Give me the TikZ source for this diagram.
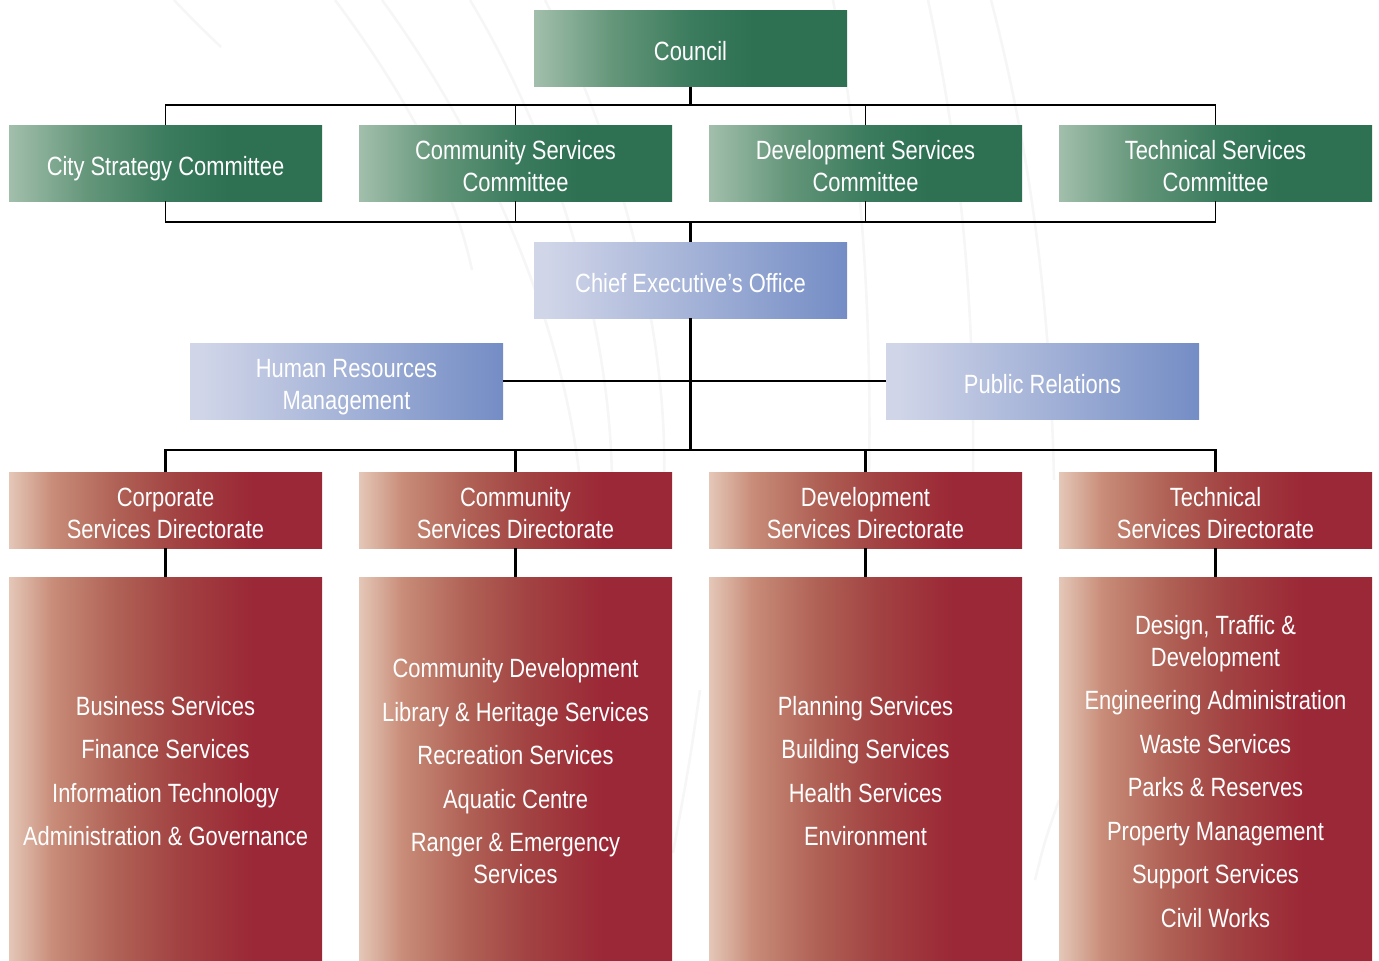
\documentclass[tikz,border=0pt]{standalone}
\usepackage{fontspec}
\setmainfont{Liberation Sans}[FakeStretch=0.83]
\usepackage{xcolor}
\definecolor{grnlight}{RGB}{162,191,172}
\definecolor{grnmid}{RGB}{100,150,122}
\definecolor{grnmidd}{RGB}{60,124,94}
\definecolor{grndark}{RGB}{45,112,82}
\definecolor{blulight}{RGB}{208,213,232}
\definecolor{bludark}{RGB}{116,141,197}
\definecolor{redlight}{RGB}{229,199,184}
\definecolor{redmid}{RGB}{200,140,120}
\definecolor{redmidd}{RGB}{176,98,86}
\definecolor{reddeep}{RGB}{162,66,66}
\definecolor{reddark}{RGB}{155,40,54}

% left-to-right fades for the three box families
\pgfdeclarehorizontalshading{greenwave}{100bp}{color(0bp)=(grnlight); color(25bp)=(grnlight); color(37.5bp)=(grnmid); color(50bp)=(grnmidd); color(60bp)=(grndark); color(100bp)=(grndark)}
\pgfdeclarehorizontalshading{bluewave}{100bp}{color(0bp)=(blulight); color(27bp)=(blulight); color(75bp)=(bludark); color(100bp)=(bludark)}
\pgfdeclarehorizontalshading{redwave}{100bp}{color(0bp)=(redlight); color(25bp)=(redlight); color(32bp)=(redmid); color(42bp)=(redmidd); color(52bp)=(reddeep); color(64bp)=(reddark); color(100bp)=(reddark)}

% fixed height for the first line of each box
\newcommand{\capstrut}{\rule{0pt}{15pt}}

\begin{document}
\begin{tikzpicture}[x=0.5pt, y=-0.5pt,
    box/.style={minimum width=156.5pt, minimum height=38pt, inner sep=0pt, text=white, align=center, font=\fontsize{13.2}{16}\selectfont,
        execute at end node={\rule[-3pt]{0pt}{3pt}}},
    committee/.style={box, shade, shading=greenwave},
    office/.style={box, shade, shading=bluewave},
    directorate/.style={box, shade, shading=redwave},
    unitlist/.style={directorate, minimum height=191.5pt},
    link/.style={line width=1.15pt},
    thinlink/.style={line width=0.75pt},
    swirl/.style={gray!7, line width=1.3pt}]
    \useasboundingbox (0,0) rectangle (1379,960);

    % Faint background strokes
    \draw[swirl] (174,0) .. controls (195,22) .. (221,47);
    \draw[swirl] (335,0) .. controls (410,100) and (455,190) .. (472,270);
    \draw[swirl] (382,0) .. controls (470,120) and (560,300) .. (580,480);
    \draw[swirl] (470,0) .. controls (560,150) and (610,330) .. (612,480);
    \draw[swirl] (545,0) .. controls (620,150) and (668,330) .. (664,480);
    \draw[swirl] (833,0) .. controls (860,150) and (872,300) .. (869,480);
    \draw[swirl] (928,0) .. controls (960,150) and (975,300) .. (973,480);
    \draw[swirl] (991,0) .. controls (1030,150) and (1050,300) .. (1054,480);
    \draw[swirl] (700,690) .. controls (690,760) .. (673,853);
    \draw[swirl] (1059,800) .. controls (1045,840) .. (1035,880);

    % Council and its committees
    \node[committee] (council) at (690.5,48.5) {\capstrut Council};
    \foreach \x/\name/\txt in {165.5/citycom/City Strategy Committee,
                               515.5/commcom/Community Services\\Committee,
                               865.5/devcom/Development Services\\Committee,
                               1215.5/techcom/Technical Services\\Committee} {
        \node[committee] (\name) at (\x,163) {\capstrut\txt};
    }

    % Chief Executive's office
    \node[office] (ceo) at (690.5,280) {\capstrut Chief Executive’s Office};
    \node[office] (hrm) at (346.5,381) {\capstrut Human Resources\\Management};
    \node[office] (pubrel) at (1042.5,381) {\capstrut Public Relations};

    % Directorates
    \foreach \x/\name/\txt in {165.5/corpdir/Corporate\\Services Directorate,
                               515.5/commdir/Community\\Services Directorate,
                               865.5/devdir/Development\\Services Directorate,
                               1215.5/techdir/Technical\\Services Directorate} {
        \node[directorate] (\name) at (\x,510) {\capstrut\txt};
    }

    % Units under each directorate
    \node[unitlist] (corpunits) at (165.5,768.5) {\capstrut Business Services\\[5.75pt]
        Finance Services\\[5.75pt] Information Technology\\[5.75pt]
        Administration \& Governance};
    \node[unitlist] (communits) at (515.5,768.5) {\capstrut Community Development\\[5.75pt]
        Library \& Heritage Services\\[5.75pt] Recreation Services\\[5.75pt]
        Aquatic Centre\\[5.75pt] Ranger \& Emergency\\Services};
    \node[unitlist] (devunits) at (865.5,768.5) {\capstrut Planning Services\\[5.75pt]
        Building Services\\[5.75pt] Health Services\\[5.75pt] Environment};
    \node[unitlist] (techunits) at (1215.5,768.5) {\capstrut Design, Traffic \&\\Development\\[5.75pt]
        Engineering Administration\\[5.75pt] Waste Services\\[5.75pt]
        Parks \& Reserves\\[5.75pt] Property Management\\[5.75pt]
        Support Services\\[5.75pt] Civil Works};

    % Connectors
    \coordinate (topbar) at (690.5,105);
    \coordinate (midbar) at (690.5,222);
    \coordinate (lowbar) at (690.5,450);

    \draw[link] (council) -- (topbar);
    \foreach \name in {citycom, commcom, devcom, techcom} {
        \draw[thinlink] (\name.north) |- (topbar);
        \draw[thinlink] (\name.south) |- (midbar);
    }
    \draw[link] (midbar) -- (ceo);
    \draw[link] (ceo) -- (lowbar);
    \draw[link] (hrm) -- (pubrel);
    \foreach \name/\units in {corpdir/corpunits, commdir/communits, devdir/devunits, techdir/techunits} {
        \draw[link] (\name.north) |- (lowbar);
        \draw[link] (\name) -- (\units);
    }
\end{tikzpicture}
\end{document}
